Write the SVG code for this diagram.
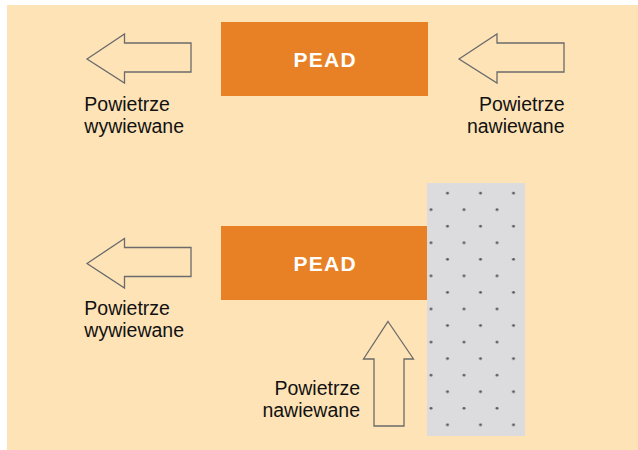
<svg xmlns="http://www.w3.org/2000/svg" width="638" height="450" viewBox="0 0 638 450">
<style>
.bg{fill:#FEE3B6}
.box{fill:#E88125}
.wall{fill:#DCDCDE}
.arrow{fill:none;stroke:#6b6b6b;stroke-width:1.3;stroke-linejoin:miter}
.lbl{font-family:"Liberation Sans",Arial,sans-serif;font-size:19.5px;fill:#111}
.title{font-family:"Liberation Sans",Arial,sans-serif;font-size:21px;font-weight:bold;fill:#fff;letter-spacing:1.3px}
</style>
<defs>
<pattern id="dots" patternUnits="userSpaceOnUse" x="422.75" y="185" width="33" height="33.1">
<circle cx="24.75" cy="8.15" r="1.4" fill="#55555a"/>
<circle cx="8.25" cy="24.7" r="1.4" fill="#55555a"/>
</pattern>
</defs>
<rect class="bg" x="7" y="5" width="631" height="445"/>
<g id="wall">
<rect class="wall" x="427" y="183" width="98" height="253"/>
<rect x="427" y="183" width="98" height="253" fill="url(#dots)"/>
</g>
<g id="pead-top">
<rect class="box" x="221" y="22" width="207" height="74"/>
<text class="title" x="325.2" y="67" text-anchor="middle">PEAD</text>
</g>
<g id="pead-bottom">
<rect class="box" x="221" y="226" width="206" height="74"/>
<text class="title" x="325.2" y="271" text-anchor="middle">PEAD</text>
</g>
<g id="connectors">
<polygon class="arrow" points="87,59 124.5,34 124.5,43 191,43 191,72 124.5,72 124.5,83"/>
<polygon class="arrow" points="459,59 497,34 497,43 564,43 564,72 497,72 497,83"/>
<polygon class="arrow" points="87,263.5 124.5,238.5 124.5,247.5 191,247.5 191,276.5 124.5,276.5 124.5,288"/>
<polygon class="arrow" points="388,321.5 413.5,359 404,359 404,426 374,426 374,359 363.5,359"/>
</g>
<g id="label-top-left">
<text class="lbl" x="84.3" y="111">Powietrze</text>
<text class="lbl" x="84.3" y="133.3">wywiewane</text>
</g>
<g id="label-top-right">
<text class="lbl" x="564.5" y="111" text-anchor="end">Powietrze</text>
<text class="lbl" x="564.5" y="133.3" text-anchor="end">nawiewane</text>
</g>
<g id="label-bottom-left">
<text class="lbl" x="84.3" y="315.3">Powietrze</text>
<text class="lbl" x="84.3" y="337">wywiewane</text>
</g>
<g id="label-bottom-right">
<text class="lbl" x="360" y="395.3" text-anchor="end">Powietrze</text>
<text class="lbl" x="360" y="417" text-anchor="end">nawiewane</text>
</g>
</svg>
